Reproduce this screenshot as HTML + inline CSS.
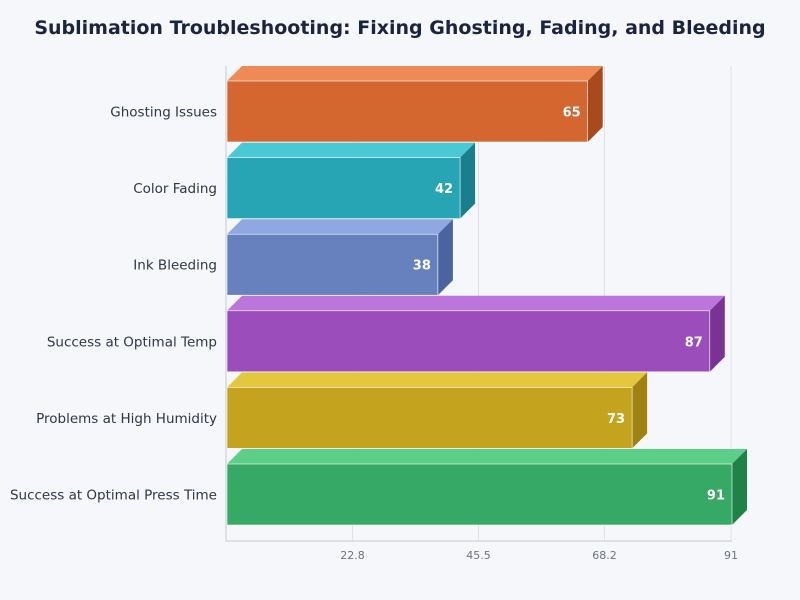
<!DOCTYPE html>
<html><head><meta charset="utf-8"><style>
body{margin:0;background:#f5f7fa;font-family:"DejaVu Sans","Liberation Sans",sans-serif;overflow:hidden;}
</style></head><body>
<svg id="chart" width="800" height="600" xmlns="http://www.w3.org/2000/svg" style="display:block">
<rect width="800" height="600" fill="#f5f7fa"/>
<text x="400" y="34" text-anchor="middle" font-size="19" font-weight="bold" fill="#1a2340">Sublimation Troubleshooting: Fixing Ghosting, Fading, and Bleeding</text>
<g id="grid"></g><g id="bars"></g><g id="labels"></g>
</svg>
<script>
const categories=["Ghosting Issues","Color Fading","Ink Bleeding","Success at Optimal Temp","Problems at High Humidity","Success at Optimal Press Time"];
const values=[65,42,38,87,73,91];
const tickValues=[22.8,45.5,68.2,91];
const tickLabels=["22.8","45.5","68.2","91"];
const front=["#d4662f","#27a5b5","#6781bf","#9b4dbb","#c4a41e","#35a965"];
const topc=["#ee8a55","#4bc8d6","#8fa8e0","#bc75db","#e3c83d","#5cce88"];
const side=["#a84a1e","#1a7f8c","#4a64a0","#7a3395","#9e8310","#1f8348"];
const NS="http://www.w3.org/2000/svg";
const x0=227,x1=732,xmax=91,yTop=66,yBot=541;
const xs=v=>x0+v/xmax*(x1-x0);
const band=76.6;
const yc=i=>111.5+band*i;
function mk(t,a,p){const e=document.createElementNS(NS,t);for(const k in a)e.setAttribute(k,a[k]);p.appendChild(e);return e;}
const grid=document.getElementById('grid'),bars=document.getElementById('bars'),labels=document.getElementById('labels');
tickValues.forEach((v,i)=>{
 const l=mk('line',{x1:xs(v)-1,x2:xs(v)-1,y1:yTop,y2:yBot,stroke:'#dde1e7','stroke-width':1},grid);
 
 
 const t=mk('text',{x:xs(v)-1,y:559,'text-anchor':'middle','font-size':11,fill:'#6b7280'},labels);
 t.textContent=tickLabels[i];
 
 
});
const ax=mk('path',{d:`M${x0-1} ${yTop}V${yBot}H${x1}`,stroke:'#c5cad3',fill:'none'},grid);


const h=61,d=15;
values.forEach((v,i)=>{
 const c=yc(i),y=c-h/2,xe=xs(v);
 const g=mk('g',{},bars);
 
 
 mk('polygon',{points:`${x0},${y} ${x0+d},${y-d} ${xe+d},${y-d} ${xe},${y}`,fill:topc[i]},g);
 mk('polygon',{points:`${xe},${y} ${xe+d},${y-d} ${xe+d},${y+h-d} ${xe},${y+h}`,fill:side[i]},g);
 mk('rect',{x:x0,y:y,width:xe-x0,height:h,fill:front[i],stroke:'#fff','stroke-width':0.6},g);
 const vt=mk('text',{x:xe-7,y:c+5,'text-anchor':'end','font-size':13,'font-weight':'bold',fill:'#fff'},g);
 vt.textContent=v;
 
 
 const ct=mk('text',{x:217,y:c+5,'text-anchor':'end','font-size':13.5,fill:'#2d3748'},labels);
 ct.textContent=categories[i];
 
 
});
</script>
</body></html>
